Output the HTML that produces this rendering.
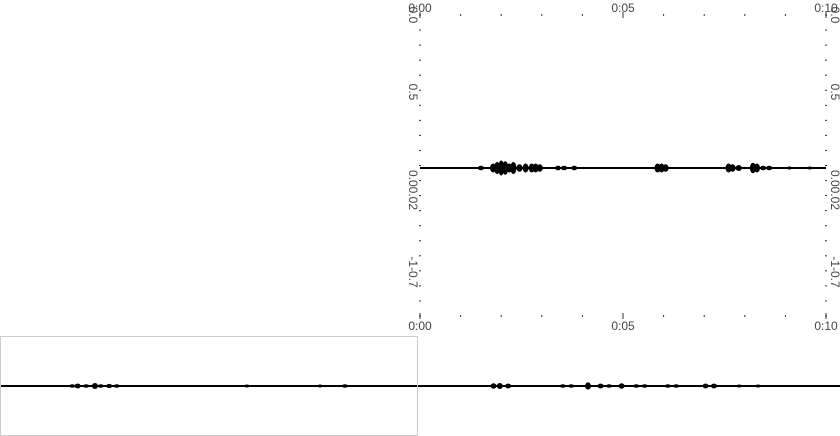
<!DOCTYPE html>
<html><head><meta charset="utf-8"><style>
html,body{margin:0;padding:0;background:#fff;width:840px;height:436px;overflow:hidden}
svg{position:absolute;left:0;top:0}
text{font-family:"Liberation Sans",sans-serif;font-size:12px;fill:#444}
</style></head><body>
<svg id="c" width="840" height="436"></svg>
<script>
// data (seconds, normalized amplitude)
const mainTimes=[1.5,1.8,1.9,2.0,2.1,2.2,2.3,2.45,2.6,2.75,2.85,2.95,3.4,3.55,3.8,5.85,5.95,6.05,7.6,7.7,7.85,8.2,8.3,8.45,8.6,9.1,9.6];
const mainAmps=[0.015,0.03,0.04,0.05,0.045,0.03,0.04,0.025,0.03,0.03,0.03,0.025,0.015,0.015,0.015,0.03,0.03,0.025,0.03,0.025,0.02,0.035,0.03,0.015,0.015,0.008,0.008];
const miniTimes=[1.72,1.85,2.05,2.26,2.4,2.6,2.78,5.88,7.62,8.21,11.75,11.9,12.1,13.4,13.6,14.0,14.3,14.5,14.8,15.15,15.35,15.9,16.1,16.8,17.0,17.6,18.05];
const miniAmps=[0.03,0.04,0.03,0.05,0.03,0.035,0.03,0.02,0.02,0.03,0.045,0.05,0.04,0.03,0.03,0.06,0.04,0.03,0.045,0.03,0.03,0.03,0.03,0.04,0.04,0.015,0.015];
const xTickLabels=["0:00","0:05","0:10"];

const NS="http://www.w3.org/2000/svg";
const svg=document.getElementById('c');
function el(t,a,p){const e=document.createElementNS(NS,t);for(const k in a)e.setAttribute(k,a[k]);(p||svg).appendChild(e);return e;}
const x0=420,x1=826,yTop=15,yBot=316,yMid=168;
const xs=t=>x0+(x1-x0)*t/10;
const ys=a=>yMid-a*150;
const mx=t=>t*42;
const mY=386;

for(let i=0;i<=10;i++){
  const x=xs(i);const major=i%5===0;
  for(const y of [yTop,yBot]){
    const t=el('line',{x1:x,x2:x,y1:y-(major?3:1),y2:y+(major?3:1),stroke:'#333','stroke-width':1});
    
    
  }
}
xTickLabels.forEach((s,i)=>{
  for(const y of [12,330]){
    const t=el('text',{x:xs(i*5),y:y,'text-anchor':'middle'});t.textContent=s;
    
    
  }
});
for(let i=0;i<=20;i++){
  const y=yTop+(yBot-yTop)*i/20;
  for(const x of [x0,x1]){
    const t=el('line',{x1:x-1,x2:x+1,y1:y,y2:y,stroke:'#333','stroke-width':1});
    
    
  }
}
const yLabels=[["0.0",15],["0.5",92],["0.00.02",190],["-1-0.7",272]];
yLabels.forEach(([s,y])=>{
  for(const x of [409,831]){
    const t=el('text',{x:0,y:0,'text-anchor':'middle',transform:`translate(${x},${y}) rotate(90)`});t.textContent=s;
    
    
  }
});
const base=el('line',{x1:x0,x2:x1,y1:yMid,y2:yMid,stroke:'#000','stroke-width':2});


mainTimes.forEach((t,i)=>{
  const a=mainAmps[i];
  const r=el('ellipse',{cx:xs(t),cy:yMid,rx:3,ry:Math.max(1.5,yMid-ys(a)),fill:'#000'});
  
  
});
const mb=el('line',{x1:0,x2:840,y1:mY,y2:mY,stroke:'#000','stroke-width':2});


miniTimes.forEach((t,i)=>{
  const a=miniAmps[i];
  const r=el('ellipse',{cx:mx(t),cy:mY,rx:3,ry:Math.max(1.5,a*60),fill:'#000'});
  
  
});
const box=el('rect',{x:0.5,y:336.5,width:417,height:99,fill:'none',stroke:'#ccc','stroke-width':1});


</script>
</body></html>
